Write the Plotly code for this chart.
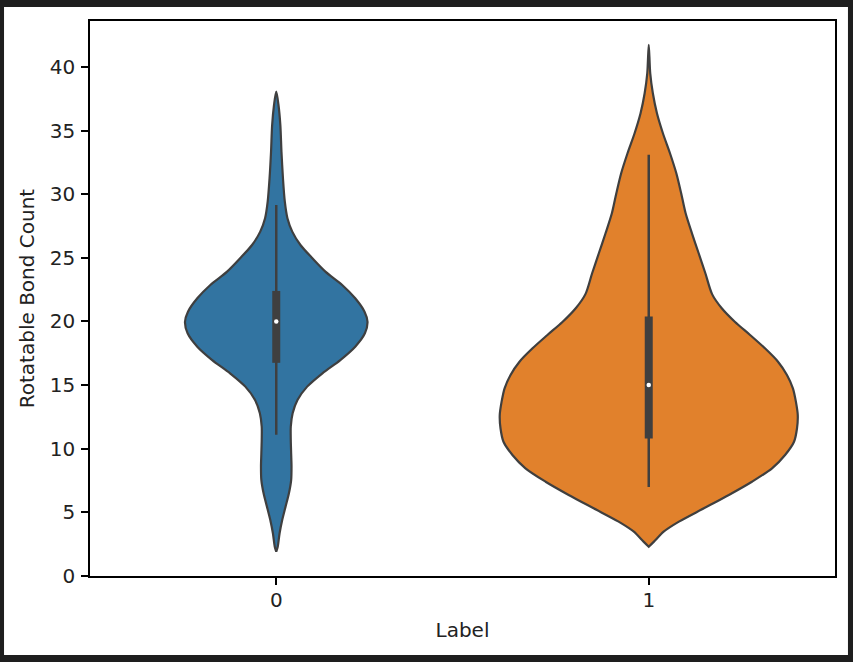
import plotly.graph_objects as go

categories = ["0", "1"]

# violin outlines: value and half width (x units)
values_0 = [38.06, 37.01, 35.44, 33.34, 31.25, 29.41, 28.11, 27.06, 26.01, 24.97,
            23.92, 22.87, 21.82, 20.77, 19.98, 19.07, 18.02, 16.97, 15.93, 14.88,
            13.83, 12.79, 11.73, 10.69, 9.64, 8.59, 7.54, 6.50, 5.45, 4.40,
            3.36, 2.30, 1.91]
halfwidth_0 = [0.0, 0.006, 0.011, 0.014, 0.018, 0.023, 0.030, 0.043, 0.065, 0.097,
               0.132, 0.177, 0.212, 0.237, 0.245, 0.238, 0.212, 0.172, 0.124, 0.083,
               0.057, 0.044, 0.039, 0.039, 0.040, 0.041, 0.040, 0.034, 0.025, 0.016,
               0.009, 0.004, 0.0]

values_1 = [41.73, 39.50, 37.93, 36.36, 34.79, 33.22, 31.65, 30.08, 28.50, 26.93,
            25.36, 23.79, 22.15, 21.04, 19.98, 18.94, 17.89, 16.84, 15.80, 14.75,
            13.70, 12.65, 11.61, 10.55, 9.51, 8.46, 7.41, 6.37, 5.32, 4.27,
            3.48, 2.70, 2.30]
halfwidth_1 = [0.0, 0.004, 0.011, 0.022, 0.038, 0.057, 0.074, 0.087, 0.099, 0.116,
               0.134, 0.152, 0.170, 0.196, 0.231, 0.272, 0.312, 0.347, 0.371, 0.387,
               0.395, 0.400, 0.398, 0.390, 0.366, 0.331, 0.277, 0.215, 0.148, 0.081,
               0.040, 0.014, 0.0]

# inner box stats
whisker_low = [11.1, 7.0]
q1 = [16.75, 10.8]
median = [20.0, 15.0]
q3 = [22.4, 20.4]
whisker_high = [29.15, 33.1]

fills = ["#3274a1", "#e1812c"]
edge = "#3f3f3f"
font = "DejaVu Sans"

fig = go.Figure()

outlines = [(values_0, halfwidth_0), (values_1, halfwidth_1)]
for i, (vals, hw) in enumerate(outlines):
    xs = [i - w for w in hw] + [i + w for w in reversed(hw)]
    ys = list(vals) + list(reversed(vals))
    fig.add_trace(
        go.Scatter(
            x=xs,
            y=ys,
            mode="lines",
            fill="toself",
            fillcolor=fills[i],
            line={"color": edge, "width": 2.2, "shape": "spline", "smoothing": 0.8},
            hoverinfo="skip",
            showlegend=False,
        )
    )

for i in range(len(categories)):
    fig.add_trace(
        go.Scatter(
            x=[i, i],
            y=[whisker_low[i], whisker_high[i]],
            mode="lines",
            line={"color": edge, "width": 2.5},
            hoverinfo="skip",
            showlegend=False,
        )
    )
    fig.add_trace(
        go.Scatter(
            x=[i, i],
            y=[q1[i], q3[i]],
            mode="lines",
            line={"color": edge, "width": 8},
            hoverinfo="skip",
            showlegend=False,
        )
    )
    fig.add_trace(
        go.Scatter(
            x=[i],
            y=[median[i]],
            mode="markers",
            marker={"color": "white", "size": 4.5},
            hovertemplate=f"Label {categories[i]}<br>median %{{y}}<extra></extra>",
            showlegend=False,
        )
    )

# white canvas inside the dark frame of the screenshot
fig.add_shape(
    type="rect",
    xref="paper",
    yref="paper",
    x0=-0.1154,
    x1=1.0174,
    y0=-0.1423,
    y1=1.0252,
    fillcolor="white",
    line={"width": 0},
    layer="below",
)

axis_style = {
    "showline": True,
    "linecolor": "black",
    "linewidth": 1.6,
    "mirror": True,
    "ticks": "outside",
    "ticklen": 7,
    "tickwidth": 1.6,
    "tickcolor": "black",
    "tickfont": {"family": font, "size": 20, "color": "#222"},
    "showgrid": False,
    "zeroline": False,
}

fig.update_layout(
    width=853,
    height=662,
    margin={"l": 90, "r": 18, "t": 21, "b": 86},
    paper_bgcolor="#1e1e1e",
    plot_bgcolor="white",
    xaxis={
        **axis_style,
        "range": [-0.5, 1.5],
        "tickvals": [0, 1],
        "ticktext": categories,
        "ticklabelstandoff": -2,
        "title": {"text": "Label", "font": {"family": font, "size": 20, "color": "#222"}, "standoff": 12},
    },
    yaxis={
        **axis_style,
        "range": [0, 43.61],
        "tickvals": [0, 5, 10, 15, 20, 25, 30, 35, 40],
        "ticklabelstandoff": 2,
        "title": {"text": "Rotatable Bond Count", "font": {"family": font, "size": 20, "color": "#222"}, "standoff": 10},
    },
)

fig.write_html(
    "out.html",
    config={"displayModeBar": False},
    post_script="document.body.style.margin = '0';",
)
